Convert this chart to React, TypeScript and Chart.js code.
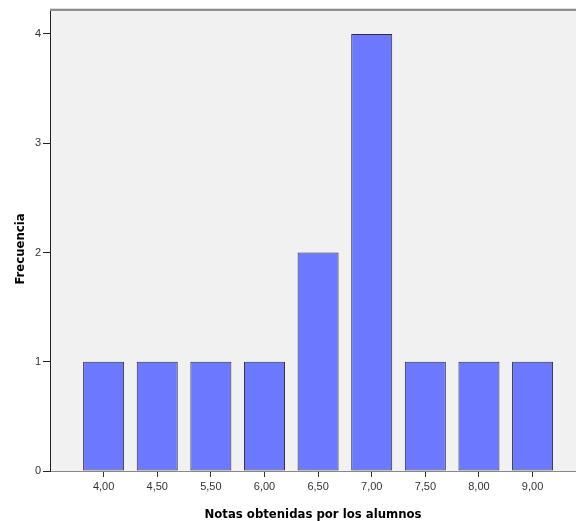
import React, { useEffect, useRef } from "react";
import { Chart, registerables } from "chart.js";

Chart.register(...registerables);

const categories = ["4,00", "4,50", "5,50", "6,00", "6,50", "7,00", "7,50", "8,00", "9,00"];
const frequencies = [1, 1, 1, 1, 2, 4, 1, 1, 1];
const yTicks = [0, 1, 2, 3, 4];
const yTitle = "Frecuencia";
const xTitle = "Notas obtenidas por los alumnos";

const plotBg = {
  id: "plotBg",
  beforeDraw(chart: any) {
    const { ctx, chartArea } = chart;
    ctx.save();
    ctx.fillStyle = "#f1f1f1";
    ctx.fillRect(chartArea.left, chartArea.top, chartArea.right - chartArea.left, chartArea.bottom - chartArea.top);
    ctx.restore();
  },
  afterDraw(chart: any) {
    const { ctx, chartArea } = chart;
    ctx.save();
    ctx.strokeStyle = "#dcdcdc";
    ctx.lineWidth = 1;
    ctx.beginPath();
    ctx.moveTo(chartArea.left, chartArea.top - 2.5);
    ctx.lineTo(chartArea.right, chartArea.top - 2.5);
    ctx.stroke();
    ctx.strokeStyle = "#8e8e8e";
    ctx.lineWidth = 2;
    ctx.beginPath();
    ctx.moveTo(chartArea.left, chartArea.top - 1);
    ctx.lineTo(chartArea.right, chartArea.top - 1);
    ctx.stroke();
    // y-axis title
    ctx.translate(20.5, 249);
    ctx.rotate(-Math.PI / 2);
    ctx.fillStyle = "#000";
    ctx.font = "bold 13px 'DejaVu Sans Condensed', 'DejaVu Sans'";
    ctx.textAlign = "center";
    ctx.textBaseline = "middle";
    ctx.fillText(yTitle, 0, 0);
    ctx.restore();
  },
};

export default function App() {
  const ref = useRef<HTMLCanvasElement>(null);
  useEffect(() => {
    if (!ref.current) return;
    const chart = new Chart(ref.current, {
      type: "bar",
      data: {
        datasets: [
          {
            data: frequencies.map((v, i) => ({ x: i + 1, y: v })),
            backgroundColor: "#6b78ff",
            borderColor: "#2e2e3a",
            borderWidth: 1,
            borderSkipped: false,
            barPercentage: 0.765,
            categoryPercentage: 1,
          },
        ],
      },
      options: {
        responsive: false,
        animation: false,
        layout: { padding: { top: 11, right: 0, left: 0, bottom: 0 } },
        plugins: { legend: { display: false }, tooltip: { enabled: false } },
        scales: {
          x: {
            type: "linear",
            min: 0,
            max: 9.81,
            offset: false,
            afterBuildTicks: (scale: any) => {
              scale.ticks = categories.map((_, i) => ({ value: i + 1 }));
            },
            afterFit: (scale: any) => {
              scale.height = 50;
            },
            ticks: {
              autoSkip: false,
              maxRotation: 0,
              padding: 3,
              color: "#333",
              font: { family: "'Liberation Sans', Arial", size: 11 },
              callback: (v: any) => categories[Math.round(Number(v)) - 1] ?? "",
            },
            grid: { offset: false, drawOnChartArea: false, drawTicks: true, tickLength: 6, color: "#333" },
            border: { display: true, color: "#888", width: 1 },
            title: {
              display: true,
              text: xTitle,
              color: "#000",
              font: { family: "'DejaVu Sans Condensed', 'DejaVu Sans'", size: 13, weight: "bold", lineHeight: 1 },
              padding: { top: 0, bottom: 0 },
            },
          },
          y: {
            min: 0,
            max: 4.21,
            afterBuildTicks: (scale: any) => {
              scale.ticks = yTicks.map((v) => ({ value: v }));
            },
            afterFit: (scale: any) => {
              scale.width = 50;
            },
            ticks: {
              padding: 2,
              color: "#333",
              font: { family: "'Liberation Sans', Arial", size: 11 },
            },
            grid: { drawOnChartArea: false, drawTicks: true, tickLength: 7, color: "#222" },
            border: { display: true, color: "#222", width: 1 },
            title: { display: false },
          },
        },
      },
      plugins: [plotBg],
    } as any);
    return () => chart.destroy();
  }, []);
  return (
    <div style={{ position: "absolute", left: 0, top: 0, width: 576, height: 521, background: "#fff" }}>
      <canvas ref={ref} width={576} height={521} />
    </div>
  );
}
